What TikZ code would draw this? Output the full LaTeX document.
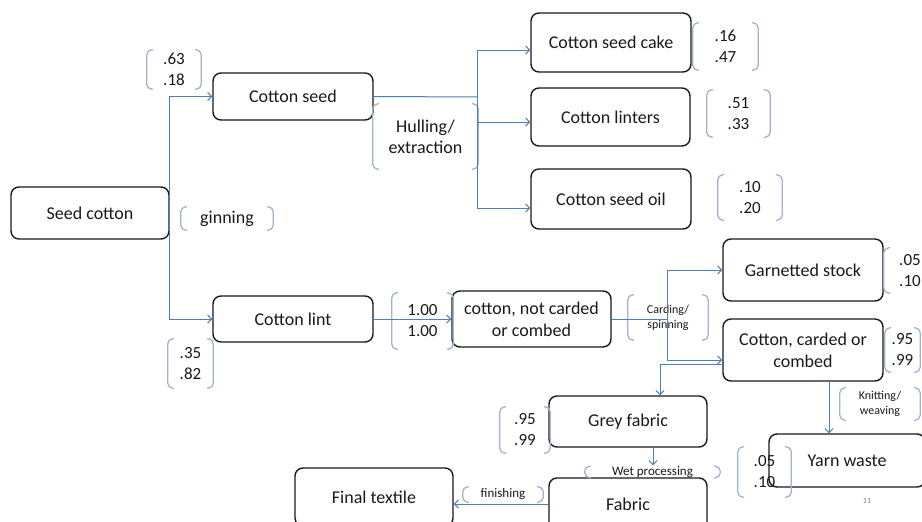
\documentclass[tikz,border=0pt]{standalone}
\usepackage{fontspec}
\setmainfont{Carlito}
\usetikzlibrary{arrows.meta}
\definecolor{flowblue}{HTML}{4F7FBA}
\definecolor{brkblue}{HTML}{9FB4CE}
\definecolor{ink}{HTML}{1A1A1A}
\tikzset{
  box/.style={draw=ink, line width=1.4pt, rounded corners=8pt, align=center,
    text=ink, font=\fontsize{18}{22}\selectfont, inner sep=0pt},
  lbl/.style={align=center, inner sep=0pt, text=ink, font=\fontsize{17}{21}\selectfont},
  smalllbl/.style={lbl, font=\fontsize{12}{15}\selectfont},
  flow/.style={draw=flowblue, line width=1pt},
  arr/.style={flow, -{Straight Barb[length=4pt,width=8pt]}},
  brkline/.style={draw=brkblue, line width=1.3pt, rounded corners=5pt},
}
% a pair of round brackets around a label node
\newcommand\bracketsaround[1]{%
  \draw[brkline] ([xshift=6pt]#1.north west) -- (#1.north west) -- (#1.south west) -- ([xshift=6pt]#1.south west);
  \draw[brkline] ([xshift=-6pt]#1.north east) -- (#1.north east) -- (#1.south east) -- ([xshift=-6pt]#1.south east);}
\begin{document}
\begin{tikzpicture}[x=1pt, y=-1pt]
\useasboundingbox (0,0) rectangle (922,522);
\fill[white] (0,0) rectangle (922,522);
\clip (0,0) rectangle (922,522);

% process boxes
\node[box, minimum width=158pt, minimum height=52pt] (sc)   at (90,213)    {Seed cotton};
\node[box, minimum width=160pt, minimum height=47pt] (cs)   at (293,96.5)  {Cotton seed};
\node[box, minimum width=160pt, minimum height=46pt] (cl)   at (293,319)   {Cotton lint};
\node[box, minimum width=160pt, minimum height=59pt] (cake) at (611,42.5)  {Cotton seed cake};
\node[box, minimum width=159pt, minimum height=58pt] (lint) at (610.5,117) {Cotton linters};
\node[box, minimum width=160pt, minimum height=60pt] (oil)  at (611,199)   {Cotton seed oil};
\node[box, minimum width=159pt, minimum height=56pt] (ncc)  at (531.5,319) {cotton, not carded\\or combed};
\node[box, minimum width=160pt, minimum height=62pt] (gs)   at (803,270)   {Garnetted stock};
\node[box, minimum width=160pt, minimum height=62pt] (ccc)  at (803,350)   {Cotton, carded or\\combed};
\node[box, minimum width=158pt, minimum height=51pt] (gf)   at (628,421.5) {Grey fabric};
\node[box, minimum width=158pt, minimum height=52pt] (fab)  at (628,504)   {Fabric};
\node[box, minimum width=158pt, minimum height=58pt] (ft)   at (374,497)   {Final textile};
\node[box, minimum width=156pt, minimum height=53pt] (yw)   at (847,460.5) {Yarn waste};

% yield coefficients and process steps
\node[lbl, minimum width=54pt, minimum height=39pt] (n1) at (174,69.5)    {.63\\.18};
\node[lbl, minimum width=105pt, minimum height=65pt, font=\fontsize{18}{21}\selectfont] (hul) at (425.5,136.5) {Hulling/\\extraction};
\node[lbl, minimum width=92pt, minimum height=23pt, font=\fontsize{18}{21}\selectfont] (gin) at (227,218.5) {ginning};
\node[lbl, minimum width=65pt, minimum height=47pt] (n2) at (725.5,46.5)  {.16\\.47};
\node[lbl, minimum width=63pt, minimum height=47pt] (n3) at (738.5,113.5) {.51\\.33};
\node[lbl, minimum width=64pt, minimum height=45pt] (n4) at (750,197.5)   {.10\\.20};
\node[lbl, minimum width=45pt, minimum height=49pt] (n5) at (190.5,363.5) {.35\\.82};
\node[lbl, minimum width=61pt, minimum height=56pt] (n6) at (422.5,321)   {1.00\\1.00};
\node[smalllbl, minimum width=80pt, minimum height=45pt] (card) at (668,317.5) {Carding/\\spinning};
\node[lbl, minimum width=52pt, minimum height=45pt] (n7) at (910,270.5)   {.05\\.10};
\node[lbl, minimum width=35pt, minimum height=44pt] (n8) at (902.5,350)   {.95\\.99};
\node[smalllbl, minimum width=80pt, minimum height=32pt] (knit) at (880,404) {Knitting/\\weaving};
\node[lbl, minimum width=50pt, minimum height=46pt] (n9) at (525,430)     {.95\\.99};
\node[smalllbl, minimum width=135pt, minimum height=10pt, font=\fontsize{13}{15}\selectfont] (wet) at (652.5,472) {Wet processing};
\node[lbl, minimum width=53pt, minimum height=50pt] (n10) at (764.5,472)  {.05\\.10};
\node[smalllbl, minimum width=80pt, minimum height=15pt, font=\fontsize{13}{15}\selectfont] (fin) at (503,494.5) {finishing};
\node[text=gray, font=\fontsize{8}{9}\selectfont] (pg) at (867,501) {11};

\foreach \n in {n1,hul,gin,n2,n3,n4,n5,n6,card,n7,n8,knit,n9,wet,n10,fin}
  {\bracketsaround{\n}}

% ginning
\draw[arr] (sc.east) |- (cs.west);
\draw[arr] (sc.east) |- (cl.west);

% hulling / extraction
\coordinate (hx) at (477,97);
\draw[flow] (cs.east) -- (hx);
\draw[arr] (hx) |- ([yshift=-7.5pt]cake.west);
\draw[arr] (hx) |- ([yshift=-5pt]lint.west);
\draw[arr] (hx) |- ([yshift=-9pt]oil.west);

% lint processing
\draw[arr] (cl) -- (ncc);
\coordinate (cx) at (667,319);
\draw[flow] (ncc.east) -- (cx);
\draw[arr] (cx) |- (gs.west);
\draw[arr] (cx) |- ([yshift=-10pt]ccc.west);
\draw[arr] ([yshift=-14pt]ccc.west) -| ([xshift=32pt]gf.north);
\draw[arr] ([xshift=26pt]ccc.south) -- ([xshift=26pt]ccc.south |- yw.north);
\draw[arr] ([xshift=25pt]gf.south) -- ([xshift=25pt,yshift=12pt]fab.north);
\draw[arr] (fab.west) -- (ft.east |- fab.west);
\end{tikzpicture}
\end{document}
